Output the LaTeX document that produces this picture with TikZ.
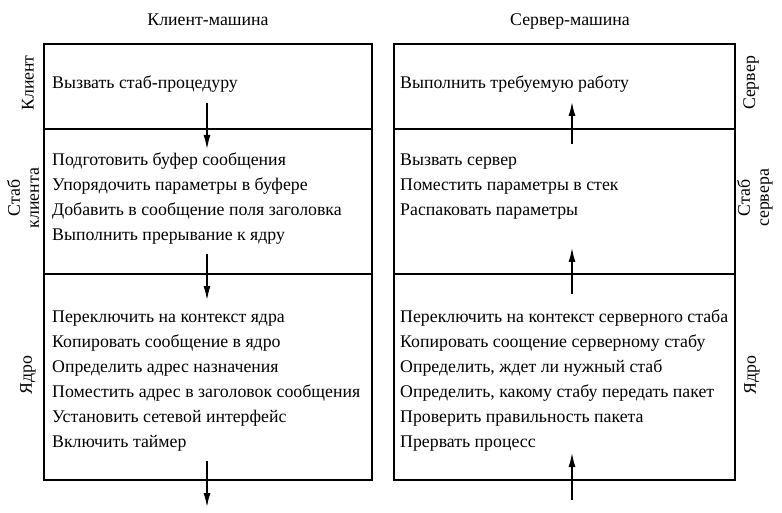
\documentclass[tikz,border=0pt]{standalone}
\usepackage{fontspec}
\setmainfont{Liberation Serif}
\usetikzlibrary{arrows.meta}
\begin{document}
\begin{tikzpicture}[x=1pt,y=-1pt,
  sec/.style={draw,line width=1.6pt,rectangle,inner sep=0pt,anchor=north west},
  txt/.style={anchor=base west,inner sep=0pt,font=\fontsize{17.8}{19}\selectfont},
  ttl/.style={anchor=base,inner sep=0pt,font=\fontsize{17.8}{19}\selectfont},
  side/.style={inner sep=0pt,font=\fontsize{17.8}{19}\selectfont,align=center,rotate=90},
  flow/.style={line width=1.4pt,-{Latex[length=14pt,width=7pt]}}]
\useasboundingbox (0,0) rectangle (782,513);
% titles
\node[ttl] (t1) at (208,26) {Клиент-машина};
\node[ttl] (t2) at (570,26) {Сервер-машина};
% left column sections
\node[sec,minimum width=328pt,minimum height=85pt] (l1) at (43,43) {};
\node[sec,minimum width=328pt,minimum height=145pt] (l2) at (43,128) {};
\node[sec,minimum width=328pt,minimum height=206pt] (l3) at (43,273) {};
% right column sections
\node[sec,minimum width=341pt,minimum height=85pt] (r1) at (393,43) {};
\node[sec,minimum width=341pt,minimum height=145pt] (r2) at (393,128) {};
\node[sec,minimum width=341pt,minimum height=206pt] (r3) at (393,273) {};
% side labels
\node[side] (sl1) at (28,83) {Клиент};
\node[side] (sl2) at (23,198) {Стаб\\[0pt]клиента};
\node[side] (sl3) at (28,375) {Ядро};
\node[side] (sr1) at (751,83) {Сервер};
\node[side] (sr2) at (755,198) {Стаб\\[0pt]сервера};
\node[side] (sr3) at (752,375) {Ядро};
% left texts
\node[txt] (a1) at (52,89) {Вызвать стаб-процедуру};
\node[txt] (b1) at (52,166) {Подготовить буфер сообщения};
\node[txt] (b2) at (52,191) {Упорядочить параметры в буфере};
\node[txt] (b3) at (52,216) {Добавить в сообщение поля заголовка};
\node[txt] (b4) at (52,241) {Выполнить прерывание к ядру};
\node[txt] (c1) at (52,322) {Переключить на контекст ядра};
\node[txt] (c2) at (52,347) {Копировать сообщение в ядро};
\node[txt] (c3) at (52,372) {Определить адрес назначения};
\node[txt] (c4) at (52,397) {Поместить адрес в заголовок сообщения};
\node[txt] (c5) at (52,422) {Установить сетевой интерфейс};
\node[txt] (c6) at (52,447) {Включить таймер};
% right texts
\node[txt] (d1) at (400,89) {Выполнить требуемую работу};
\node[txt] (e1) at (400,166) {Вызвать сервер};
\node[txt] (e2) at (400,191) {Поместить параметры в стек};
\node[txt] (e3) at (400,216) {Распаковать параметры};
\node[txt] (f1) at (400,322) {Переключить на контекст серверного стаба};
\node[txt] (f2) at (400,347) {Копировать соощение серверному стабу};
\node[txt] (f3) at (400,372) {Определить, ждет ли нужный стаб};
\node[txt] (f4) at (400,397) {Определить, какому стабу передать пакет};
\node[txt] (f5) at (400,422) {Проверить правильность пакета};
\node[txt] (f6) at (400,447) {Прервать процесс};
% arrow end points
\coordinate (la0) at (207,103);
\coordinate (la1) at (207,149);
\coordinate (lb0) at (207,254);
\coordinate (lb1) at (207,300);
\coordinate (lc0) at (207,461);
\coordinate (lc1) at (207,507);
\coordinate (rc0) at (572,500);
\coordinate (rc1) at (572,453);
\coordinate (rb0) at (572,294);
\coordinate (rb1) at (572,248);
\coordinate (ra0) at (572,144);
\coordinate (ra1) at (572,102);
\draw[flow] (la0) -- (la1);
\draw[flow] (lb0) -- (lb1);
\draw[flow] (lc0) -- (lc1);
\draw[flow] (rc0) -- (rc1);
\draw[flow] (rb0) -- (rb1);
\draw[flow] (ra0) -- (ra1);
\end{tikzpicture}
\end{document}
